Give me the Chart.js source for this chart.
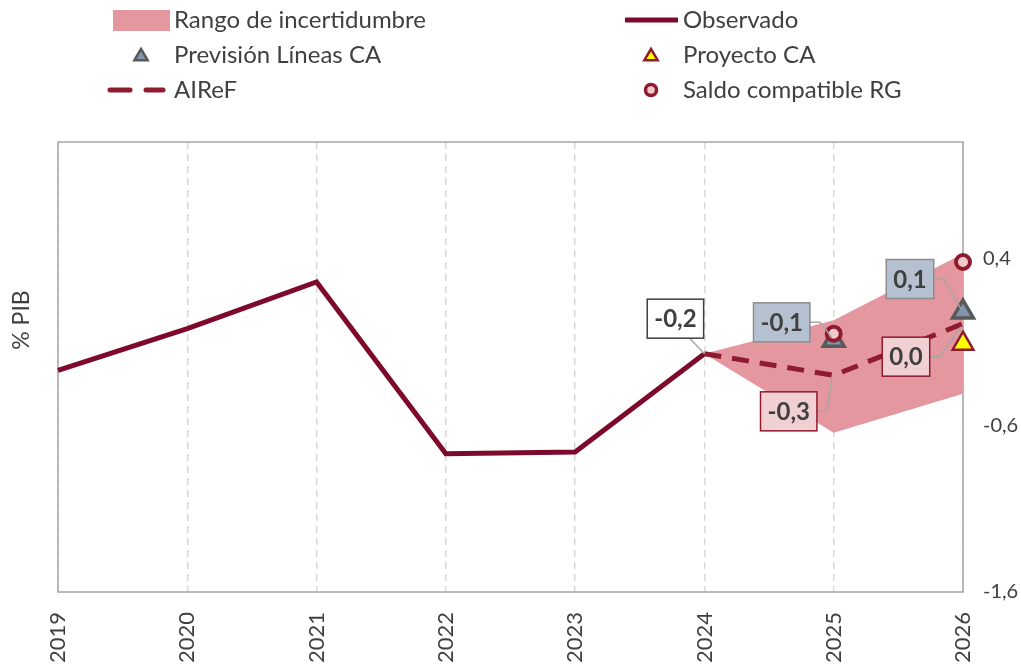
<!DOCTYPE html>
<html>
<head>
<meta charset="utf-8">
<script src="https://cdn.jsdelivr.net/npm/chart.js@4.4.1/dist/chart.umd.min.js"></script>
<style>
  html, body { margin: 0; padding: 0; background: #fff; }
  #wrap { width: 1021px; height: 666px; }
</style>
</head>
<body>
<div id="wrap"><canvas id="chart" width="1021" height="666"></canvas></div>
<script>
const years = ["2019", "2020", "2021", "2022", "2023", "2024", "2025", "2026"];
const observado = [-0.27, -0.02, 0.26, -0.77, -0.76, -0.17, null, null];
const airef = [null, null, null, null, null, -0.17, -0.30, 0.01];
const rangoSup = [null, null, null, null, null, -0.17, 0.03, 0.43];
const rangoInf = [null, null, null, null, null, -0.17, -0.645, -0.41];
const prevision = [null, null, null, null, null, null, -0.09, 0.08];
const proyecto = [null, null, null, null, null, null, null, -0.11];
const saldoRG = [null, null, null, null, null, null, -0.05, 0.38];
const yTicks = [-1.6, -0.6, 0.4];
const yTitle = "% PIB";

const FONT = "Lato, 'DejaVu Sans', sans-serif";
const TXT = "#404040";
const MAROON = "#7d0a2b";
const RED = "#8e1b2e";
const PINK = "#e4979f";

const fmt = (v) => v.toFixed(1).replace(".", ",");

// value boxes: dataset label, index, offset of box centre from point
const boxes = [
  { ds: "Observado", i: 5, dx: -29, dy: -35, fill: "#ffffff", stroke: "#404040", elbow: false },
  { ds: "Previsión Líneas CA", i: 6, dx: -52, dy: -18, fill: "#b5c1d1", stroke: "#8c8c8c", elbow: true },
  { ds: "Previsión Líneas CA", i: 7, dx: -53, dy: -33, fill: "#b5c1d1", stroke: "#8c8c8c", elbow: true },
  { ds: "AIReF", i: 6, dx: -45, dy: 36, fill: "#f1d0d3", stroke: "#8e1b2e", elbow: true },
  { ds: "AIReF", i: 7, dx: -57, dy: 33, fill: "#f1d0d3", stroke: "#8e1b2e", elbow: true },
];

// legend slots: [dataset label, marker centre x, text x, row y]
const legendSlots = [
  ["Rango de incertidumbre", 141, 174, 20],
  ["Observado", 651, 683, 20],
  ["Previsión Líneas CA", 141, 174, 55],
  ["Proyecto CA", 651, 683, 55],
  ["AIReF", 136, 174, 90],
  ["Saldo compatible RG", 651, 683, 90],
];

function drawTriangle(ctx, x, y, r) {
  ctx.beginPath();
  ctx.moveTo(x, y - r);
  ctx.lineTo(x + r * 0.95, y + r * 0.6);
  ctx.lineTo(x - r * 0.95, y + r * 0.6);
  ctx.closePath();
}

const framePlugin = {
  id: "frame",
  beforeDatasetsDraw(chart) {
    const { ctx, chartArea: a } = chart;
    ctx.save();
    ctx.strokeStyle = "#a6a6a6";
    ctx.lineWidth = 1.5;
    ctx.strokeRect(a.left, a.top, a.right - a.left, a.bottom - a.top);
    // axis title, sits a bit above the middle of the plot
    ctx.translate(22, 320);
    ctx.rotate(-Math.PI / 2);
    ctx.font = "23px " + FONT;
    ctx.fillStyle = TXT;
    ctx.textAlign = "center";
    ctx.textBaseline = "middle";
    ctx.fillText(yTitle, 0, 0);
    ctx.restore();
  },
};

const boxPlugin = {
  id: "boxes",
  afterDatasetsDraw(chart) {
    const { ctx } = chart;
    ctx.save();
    ctx.font = "bold 24px " + FONT;
    ctx.textAlign = "center";
    ctx.textBaseline = "middle";
    boxes.forEach((b) => {
      const di = chart.data.datasets.findIndex((d) => d.label === b.ds);
      const pt = chart.getDatasetMeta(di).data[b.i];
      const val = chart.data.datasets[di].data[b.i];
      const txt = fmt(val);
      const w = ctx.measureText(txt).width + 14;
      const h = 39;
      const cx = pt.x + b.dx, cy = pt.y + b.dy;
      // leader line
      ctx.strokeStyle = "#a6a6a6";
      ctx.lineWidth = 1.5;
      ctx.beginPath();
      if (b.elbow) {
        ctx.moveTo(cx + w / 2, cy);
        ctx.lineTo(cx + w / 2 + 10, cy);
        ctx.lineTo(pt.x - 2, pt.y + (b.dy < 0 ? -3 : 3));
      } else {
        ctx.moveTo(cx + w / 2 - 14, cy + h / 2);
        ctx.lineTo(pt.x, pt.y);
      }
      ctx.stroke();
      ctx.fillStyle = b.fill;
      ctx.fillRect(cx - w / 2, cy - h / 2, w, h);
      ctx.strokeStyle = b.stroke;
      ctx.lineWidth = 1.5;
      ctx.strokeRect(cx - w / 2, cy - h / 2, w, h);
      ctx.fillStyle = TXT;
      ctx.fillText(txt, cx, cy + 1);
    });
    ctx.restore();
  },
};

const legendPlugin = {
  id: "legendGrid",
  afterDraw(chart) {
    const { ctx } = chart;
    ctx.save();
    ctx.font = "24px " + FONT;
    ctx.textBaseline = "middle";
    ctx.textAlign = "left";
    legendSlots.forEach(([label, mx, tx, y]) => {
      const ds = chart.data.datasets.find((d) => d.label === label);
      if (ds.legendKind === "rect") {
        ctx.fillStyle = ds.backgroundColor;
        ctx.fillRect(mx - 28, y - 10, 57, 21);
      } else if (ds.legendKind === "line") {
        ctx.strokeStyle = ds.borderColor;
        ctx.lineWidth = ds.borderWidth;
        ctx.lineCap = ds.borderDash ? "round" : "butt";
        ctx.setLineDash(ds.borderDash ? [20, 16] : []);
        ctx.beginPath();
        ctx.moveTo(mx - 26, y);
        ctx.lineTo(mx + 27, y);
        ctx.stroke();
        ctx.setLineDash([]);
        ctx.lineCap = "butt";
      } else if (ds.legendKind === "triangle") {
        ctx.fillStyle = ds.pointBackgroundColor;
        ctx.strokeStyle = ds.pointBorderColor;
        ctx.lineWidth = 2.5;
        drawTriangle(ctx, mx, y + 1, 7);
        ctx.fill();
        ctx.stroke();
      } else if (ds.legendKind === "circle") {
        ctx.fillStyle = ds.pointBackgroundColor;
        ctx.strokeStyle = ds.pointBorderColor;
        ctx.lineWidth = 3.5;
        ctx.beginPath();
        ctx.arc(mx, y, 5.5, 0, Math.PI * 2);
        ctx.fill();
        ctx.stroke();
      }
      ctx.fillStyle = TXT;
      ctx.fillText(label, tx, y);
    });
    ctx.restore();
  },
};

const ctx = document.getElementById("chart").getContext("2d");
new Chart(ctx, {
  type: "line",
  data: {
    labels: years,
    datasets: [
      {
        label: "Saldo compatible RG",
        data: saldoRG,
        showLine: false,
        pointStyle: "circle",
        pointRadius: 7,
        pointBorderWidth: 4,
        pointBackgroundColor: "#f0c9cd",
        pointBorderColor: RED,
        legendKind: "circle",
        clip: false,
      },
      {
        label: "Proyecto CA",
        data: proyecto,
        showLine: false,
        pointStyle: "triangle",
        pointRadius: 12,
        pointBorderWidth: 2.5,
        pointBackgroundColor: "#ffff00",
        pointBorderColor: RED,
        legendKind: "triangle",
        clip: false,
      },
      {
        label: "Previsión Líneas CA",
        data: prevision,
        showLine: false,
        pointStyle: "triangle",
        pointRadius: 12,
        pointBorderWidth: 3.5,
        pointBackgroundColor: "#8094ad",
        pointBorderColor: "#595959",
        legendKind: "triangle",
        clip: false,
      },
      {
        label: "AIReF",
        data: airef,
        borderColor: RED,
        borderWidth: 5,
        borderDash: [17, 11],
        pointRadius: 0,
        legendKind: "line",
        clip: false,
      },
      {
        label: "Observado",
        data: observado,
        borderColor: MAROON,
        borderWidth: 5,
        pointRadius: 0,
        legendKind: "line",
        clip: false,
      },
      {
        label: "Rango de incertidumbre",
        data: rangoSup,
        borderWidth: 0,
        borderColor: "rgba(0,0,0,0)",
        backgroundColor: PINK,
        pointRadius: 0,
        fill: "+1",
        legendKind: "rect",
        clip: false,
      },
      {
        label: "rango inferior",
        data: rangoInf,
        borderWidth: 0,
        borderColor: "rgba(0,0,0,0)",
        pointRadius: 0,
        fill: false,
        clip: false,
      },
    ],
  },
  options: {
    responsive: false,
    animation: false,
    layout: { padding: { top: 142, left: 0, right: 0, bottom: 0 } },
    plugins: {
      legend: { display: false },
      tooltip: { enabled: false },
    },
    scales: {
      x: {
        offset: false,
        grid: { display: true, color: "#d9d9d9", lineWidth: 1.5, drawTicks: false },
        border: { display: false, dash: [7, 5] },
        ticks: {
          color: TXT,
          font: { family: FONT, size: 22 },
          minRotation: 90,
          maxRotation: 90,
          padding: 20,
        },
        afterFit: (s) => { s.height = 74; },
      },
      y: {
        position: "right",
        min: -1.6,
        max: 1.1,
        grid: { display: false, drawTicks: false },
        border: { display: false },
        afterBuildTicks: (s) => { s.ticks = yTicks.map((v) => ({ value: v })); },
        ticks: {
          color: TXT,
          font: { family: FONT, size: 20 },
          padding: 20,
          callback: (v) => fmt(v),
        },
        afterFit: (s) => { s.width = 58; },
      },
      yLeft: {
        position: "left",
        min: -1.6,
        max: 1.1,
        grid: { display: false, drawTicks: false },
        border: { display: false },
        ticks: { display: false },
        afterFit: (s) => { s.width = 58; },
      },
    },
  },
  plugins: [framePlugin, boxPlugin, legendPlugin],
});
</script>
</body>
</html>
